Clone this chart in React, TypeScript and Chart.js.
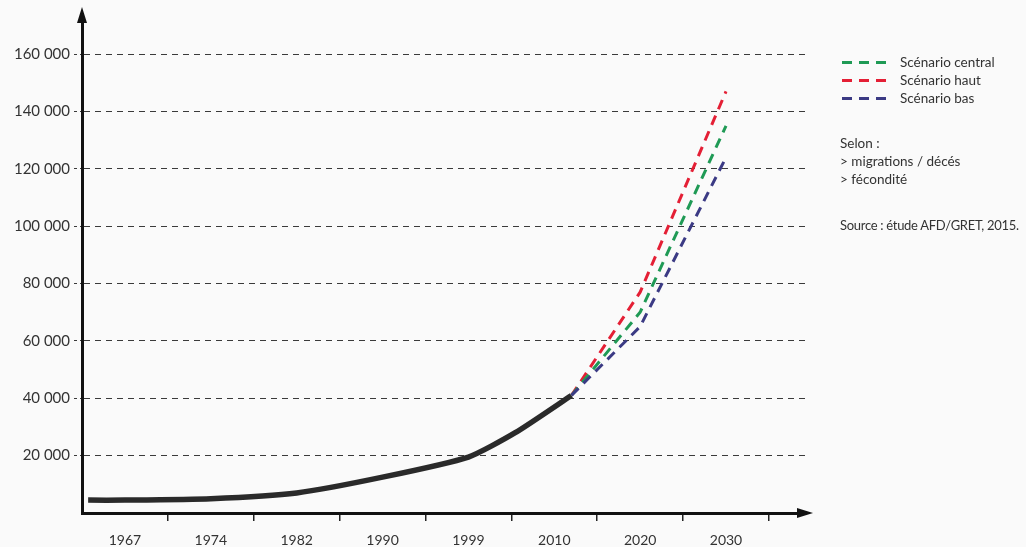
import React, { useEffect, useRef } from 'react';
import { Chart, registerables } from 'chart.js';

Chart.register(...registerables);

// ---- data ----
const yearLabels = ['1967', '1974', '1982', '1990', '1999', '2010', '2020', '2030'];
const labelYears = [1967, 1974, 1982, 1990, 1999, 2010, 2020, 2030];
const yTickValues = [20000, 40000, 60000, 80000, 100000, 120000, 140000, 160000];

const histYears = [1964, 1967, 1974, 1982, 1990, 1999, 2005, 2012];
const histValues = [4500, 4500, 5000, 7000, 12500, 19500, 28000, 41000];

const scenarioYears = [2012, 2020, 2030];
const centralValues = [41000, 70000, 135000];
const hautValues = [41000, 77000, 147000];
const basValues = [41000, 65000, 124000];

const legendNames = ['Scénario central', 'Scénario haut', 'Scénario bas'];
const legendColors = ['#1f9a55', '#e41f35', '#3b3a84'];
const noteLines = ['Selon :', '> migrations / décés', '> fécondité'];
const sourceText = 'Source : étude AFD/GRET, 2015.';

// label i sits at axis position i + 0.5 (equal bands, not proportional to years)
function yearToPos(year: number): number {
  const n = labelYears.length;
  let i = 0;
  while (i < n - 2 && year > labelYears[i + 1]) i++;
  const y0 = labelYears[i];
  const y1 = labelYears[i + 1];
  return i + 0.5 + (year - y0) / (y1 - y0);
}

function fmt(v: number): string {
  return String(v).replace(/\B(?=(\d{3})+(?!\d))/g, ' ');
}

const arrowPlugin = {
  id: 'arrows',
  afterDraw(chart: any) {
    const { ctx, chartArea } = chart;
    const { left, right, top, bottom } = chartArea;
    ctx.save();
    ctx.fillStyle = '#111';
    // y arrow
    ctx.beginPath();
    ctx.moveTo(left, top - 7);
    ctx.lineTo(left - 5, top + 9);
    ctx.lineTo(left + 5, top + 9);
    ctx.closePath();
    ctx.fill();
    // x arrow
    ctx.beginPath();
    ctx.moveTo(right + 8, bottom);
    ctx.lineTo(right - 8, bottom - 5);
    ctx.lineTo(right - 8, bottom + 5);
    ctx.closePath();
    ctx.fill();
    ctx.restore();
  },
};

export default function App() {
  const canvasRef = useRef<HTMLCanvasElement | null>(null);

  useEffect(() => {
    if (!canvasRef.current) return;
    Chart.defaults.font.family = 'Lato, "DejaVu Sans", sans-serif';
    const mk = (years: number[], vals: number[]) =>
      years.map((y, i) => ({ x: yearToPos(y), y: vals[i] }));

    const chart = new Chart(canvasRef.current, {
      type: 'line',
      data: {
        datasets: [
          {
            label: legendNames[2],
            data: mk(scenarioYears, basValues),
            borderColor: legendColors[2],
            borderWidth: 3,
            borderDash: [10, 7],
            pointRadius: 0,
            tension: 0,
          },
          {
            label: legendNames[0],
            data: mk(scenarioYears, centralValues),
            borderColor: legendColors[0],
            borderWidth: 3,
            borderDash: [10, 7],
            pointRadius: 0,
            tension: 0,
          },
          {
            label: legendNames[1],
            data: mk(scenarioYears, hautValues),
            borderColor: legendColors[1],
            borderWidth: 3,
            borderDash: [10, 7],
            pointRadius: 0,
            tension: 0,
          },
          {
            label: 'Population',
            data: mk(histYears, histValues),
            borderColor: '#2a2a2a',
            borderWidth: 5.5,
            pointRadius: 0,
            tension: 0.2,
            borderCapStyle: 'butt',
          },
        ],
      },
      options: {
        responsive: false,
        animation: false,
        layout: { padding: { top: 14, right: 221, left: 0, bottom: 0 } },
        plugins: {
          legend: { display: false },
          tooltip: { enabled: false },
        },
        scales: {
          x: {
            type: 'linear',
            min: 0,
            max: 8.42,
            afterBuildTicks: (s: any) => {
              s.ticks = yearLabels.map((_, i) => ({ value: i + 0.5 }));
            },
            afterFit: (s: any) => {
              s.height = 34;
            },
            ticks: {
              callback: (_v: any, i: number) => yearLabels[i],
              color: '#333',
              font: { size: 14 },
              padding: 11,
              maxRotation: 0,
              autoSkip: false,
            },
            grid: {
              offset: true,
              drawOnChartArea: false,
              drawTicks: true,
              tickLength: 8,
              color: (c: any) => (c.index === 0 ? 'rgba(0,0,0,0)' : '#222'),
              lineWidth: 1.5,
            },
            border: { display: true, color: '#111', width: 3 },
          },
          y: {
            type: 'linear',
            min: 0,
            max: 174000,
            afterBuildTicks: (s: any) => {
              s.ticks = yTickValues.map((v) => ({ value: v }));
            },
            afterFit: (s: any) => {
              s.width = 82;
            },
            ticks: {
              callback: (v: any) => fmt(Number(v)),
              color: '#333',
              font: { size: 15 },
              padding: 4,
            },
            grid: {
              color: '#3a3a3a',
              lineWidth: 1,
              drawTicks: true,
              tickLength: 8,
              tickBorderDash: [3, 3],
            },
            border: { display: true, color: '#111', width: 3, dash: [6, 5] },
          },
        },
      },
      plugins: [arrowPlugin],
    } as any);
    return () => chart.destroy();
  }, []);

  const textStyle: React.CSSProperties = {
    position: 'absolute',
    left: 840,
    height: 18,
    lineHeight: '18px',
    fontFamily: 'Lato, "DejaVu Sans", sans-serif',
    fontSize: 13.5,
    color: '#333',
    whiteSpace: 'nowrap',
  };

  return (
    <div
      style={{
        position: 'fixed',
        left: 0,
        top: 0,
        width: 1026,
        height: 547,
        background: '#fafafa',
        overflow: 'hidden',
      }}
    >
      <canvas
        ref={canvasRef}
        width={1026}
        height={547}
        style={{ position: 'absolute', left: 0, top: 0, width: 1026, height: 547 }}
      />
      {legendNames.map((name, i) => (
        <div key={name} style={{ ...textStyle, top: 53 + i * 18, left: 842 }}>
          {[0, 1, 2].map((k) => (
            <span
              key={k}
              style={{
                position: 'absolute',
                left: k * 17,
                top: 8,
                width: 10,
                height: 3,
                background: legendColors[i],
              }}
            />
          ))}
          <span style={{ position: 'absolute', left: 58 }}>{name}</span>
        </div>
      ))}
      {noteLines.map((line, i) => (
        <div key={line} style={{ ...textStyle, top: 134 + i * 18 }}>
          {line}
        </div>
      ))}
      <div style={{ ...textStyle, top: 216, fontSize: 13, letterSpacing: -0.3 }}>{sourceText}</div>
    </div>
  );
}
